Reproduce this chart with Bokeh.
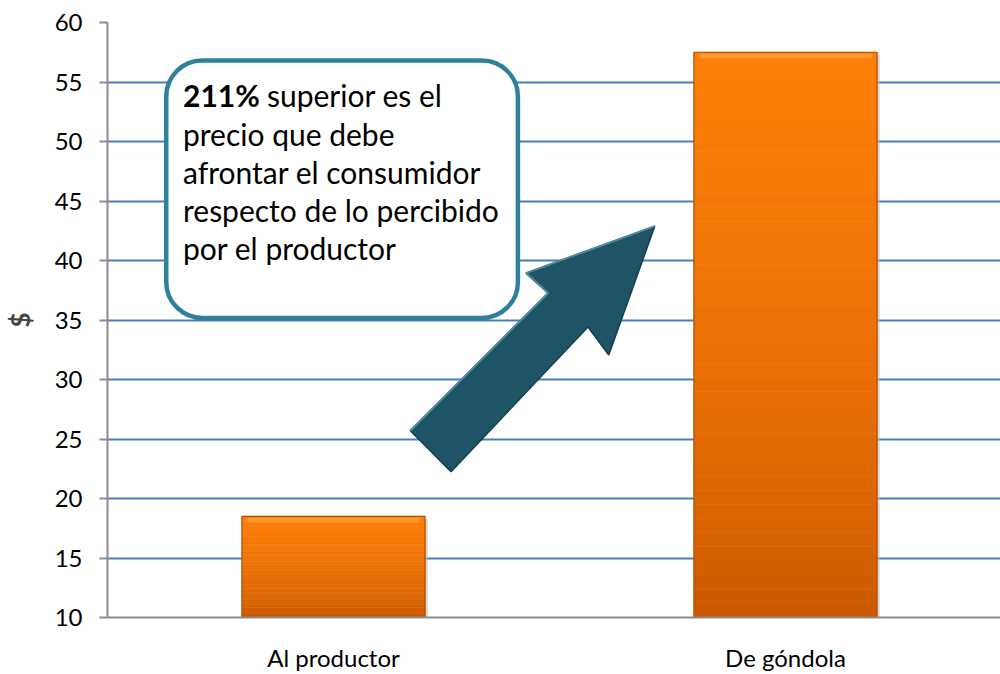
import numpy as np
from bokeh.plotting import figure
from bokeh.models import Range1d, FixedTicker
from bokeh.core.properties import value
from bokeh.embed import file_html
from bokeh.resources import INLINE

# ---------------- data ----------------
categories = ["Al productor", "De góndola"]
prices = [18.5, 57.5]
y_ticks = [10, 15, 20, 25, 30, 35, 40, 45, 50, 55, 60]
y_label = "$"
note_bold = "211%"
note_first_rest = "superior es el"
note_lines = ["precio que debe", "afrontar el consumidor",
              "respecto de lo percibido", "por el productor"]

FONT = "Lato"

p = figure(width=1000, height=674, output_backend="svg", toolbar_location=None,
           x_range=Range1d(0, 1.9757), y_range=Range1d(10, 60),
           min_border_left=106, min_border_right=0, min_border_top=22,
           min_border_bottom=56)
p.outline_line_color = None
p.background_fill_color = "white"

# grid
p.xgrid.grid_line_color = None
p.ygrid.grid_line_color = "#4A7EBB"
p.ygrid.grid_line_width = 2
p.yaxis.ticker = FixedTicker(ticks=y_ticks)

# y axis
p.yaxis.axis_line_color = "#8C8C8C"
p.yaxis.axis_line_width = 2
p.yaxis.major_tick_line_color = "#8C8C8C"
p.yaxis.major_tick_line_width = 2
p.yaxis.major_tick_out = 8
p.yaxis.major_tick_in = 0
p.yaxis.minor_tick_line_color = None
p.yaxis.major_label_standoff = 17
p.yaxis.major_label_text_font = FONT
p.yaxis.major_label_text_font_size = "24px"
p.yaxis.major_label_text_color = "#000000"
p.yaxis.axis_label = y_label
p.yaxis.axis_label_text_font = FONT
p.yaxis.axis_label_text_font_style = "bold"
p.yaxis.axis_label_text_font_size = "26px"
p.yaxis.axis_label_standoff = 16

# x axis
xs = [i + 0.5 for i in range(len(categories))]
p.xaxis.ticker = FixedTicker(ticks=xs)
p.xaxis.major_label_overrides = {x: c for x, c in zip(xs, categories)}
p.xaxis.axis_line_color = "#8C8C8C"
p.xaxis.axis_line_width = 2
p.xaxis.major_tick_line_color = None
p.xaxis.minor_tick_line_color = None
p.xaxis.major_tick_out = 0
p.xaxis.major_tick_in = 0
p.xaxis.major_label_standoff = 25
p.xaxis.major_label_text_font = FONT
p.xaxis.major_label_text_font_size = "24px"
p.xaxis.major_label_text_color = "#000000"

# bars with vertical gradient (bands computed from the values)
bar_w = 0.405
N = 40
c_bot = np.array([0xC8, 0x56, 0x00])
c_top = np.array([0xFF, 0x80, 0x08])
bx, bb, bt, bc = [], [], [], []
for x, v in zip(xs, prices):
    edges = np.linspace(10, v, N + 1)
    for k in range(N):
        f = (k + 0.5) / N
        c = (c_bot + (c_top - c_bot) * (f ** 0.6)).astype(int)
        bx.append(x); bb.append(edges[k]); bt.append(edges[k + 1])
        bc.append("#%02x%02x%02x" % tuple(c))
# shadow
p.vbar(x=[x + 0.006 for x in xs], top=[v - 0.25 for v in prices], bottom=10,
       width=bar_w, fill_color="#BDBDBD", fill_alpha=0.6, line_color=None)
p.vbar(x=bx, bottom=bb, top=bt, width=bar_w, fill_color=bc, line_color=bc,
       line_width=0.5)
# top bevel highlight
p.vbar(x=xs, top=[v - 0.12 for v in prices], bottom=[v - 0.5 for v in prices],
       width=bar_w * 0.94, fill_color="#FFA23E", fill_alpha=0.8, line_color=None)
# outline
p.vbar(x=xs, top=prices, bottom=10, width=bar_w, fill_color=None,
       line_color="#B04E00", line_width=1.2)

# arrow (annotation shape, data units)
arrow_x = [1.211, 0.926, 0.975, 0.670, 0.760, 1.063, 1.109]
arrow_y = [42.89, 38.94, 37.27, 25.69, 22.25, 34.41, 32.06]
p.patch(arrow_x, arrow_y, fill_color="#1F5466", line_color="#163F4D",
         line_width=1.5)
p.line([0.670, 0.975, 0.926, 1.211], [25.69, 37.27, 38.94, 42.89],
       line_color="#4F8A9E", line_width=2)

# callout box
p.quad(left=[0.130], right=[0.908], top=[56.81], bottom=[35.17],
       fill_color="white", line_color="#31809B", line_width=4.5,
       border_radius=36)

# callout text
tx, ty = 0.167, 53.04
p.text(x=[tx], y=[ty], text=[note_bold], y_offset=-10, text_font=value(FONT),
       text_font_style="bold", text_font_size="30px", text_color="black",
       text_baseline="alphabetic", text_align="left")
p.text(x=[tx], y=[ty], text=[note_first_rest], x_offset=84, y_offset=-10,
       text_font=value(FONT), text_font_size="30px", text_color="black",
       text_baseline="alphabetic", text_align="left")
p.text(x=[tx] * len(note_lines), y=[ty] * len(note_lines), text=note_lines,
       y_offset=[38.25 * (i + 1) - 10 for i in range(len(note_lines))],
       text_font=value(FONT), text_font_size="30px", text_color="black",
       text_baseline="alphabetic", text_align="left")

open("out.html", "w").write(file_html(p, INLINE))
